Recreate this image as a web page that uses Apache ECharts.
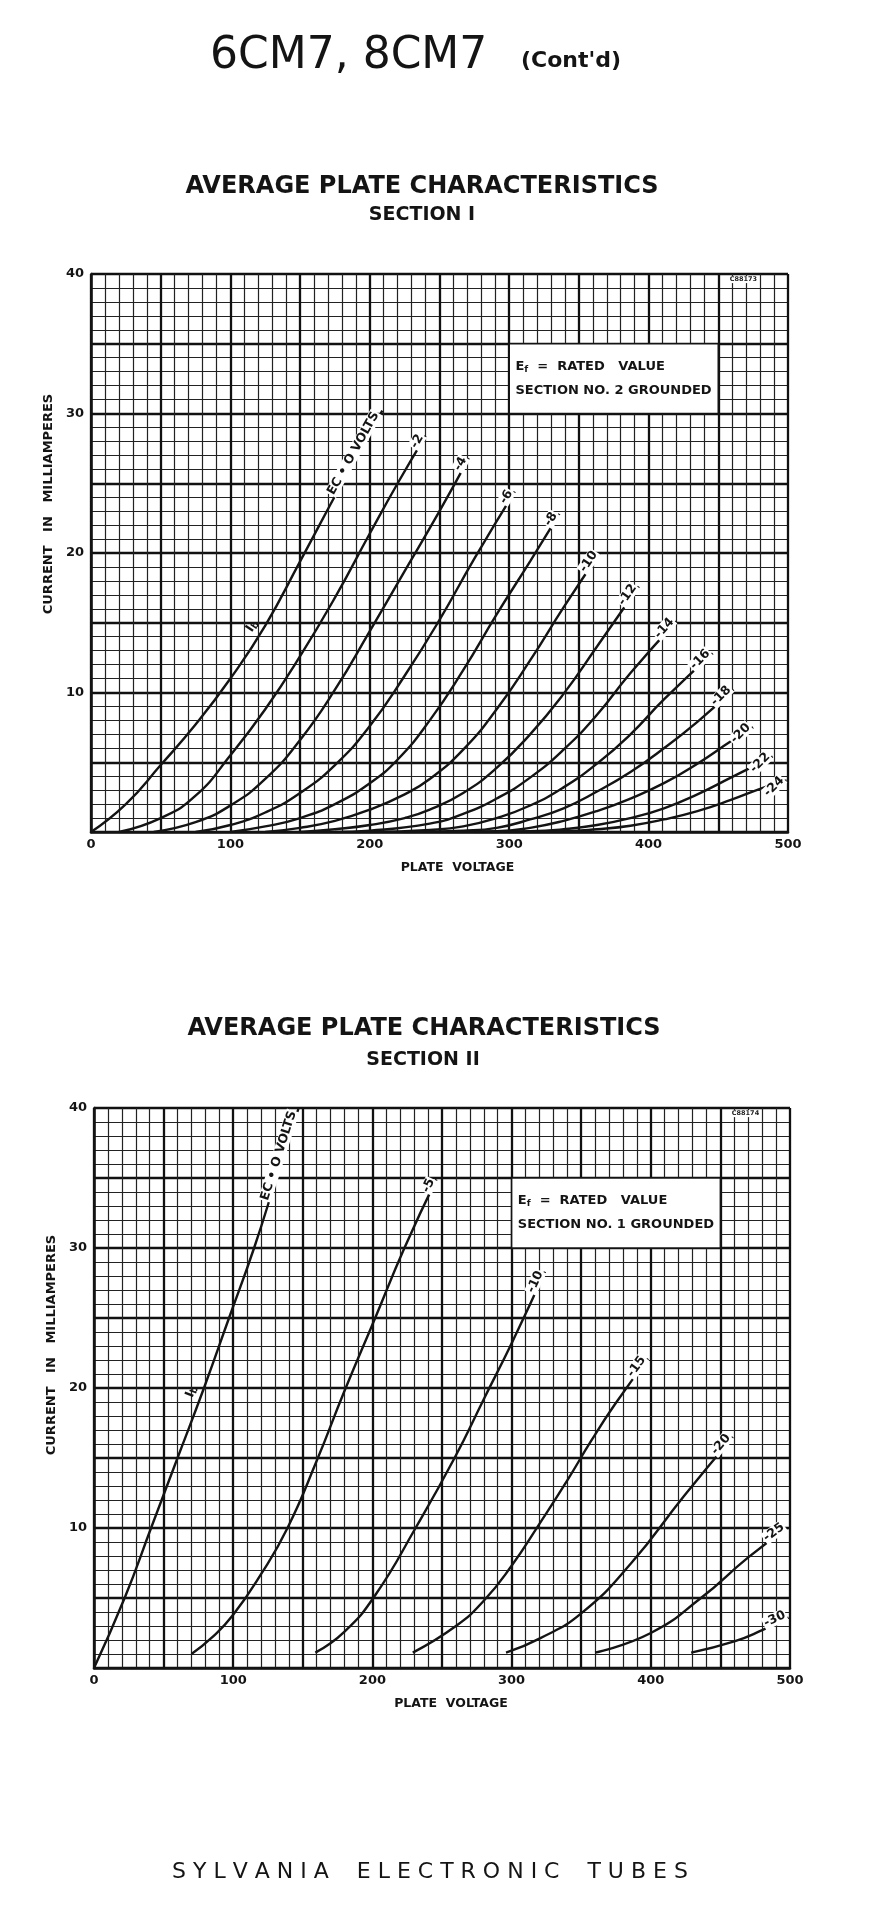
<!DOCTYPE html>
<html>
<head>
<meta charset="utf-8">
<script src="https://cdn.jsdelivr.net/npm/echarts@6.0.0/dist/echarts.min.js"></script>
<style>
html,body{margin:0;padding:0;background:#ffffff;}
#c{width:878px;height:1913px;}
</style>
</head>
<body>
<div id="c"></div>
<script>
// ---------- Axis ranges ----------
const plateVoltMax = 500;
const currentMax = 40;

// ---------- SECTION I curves: [plate volts, mA] ----------
const s1_ec0 = [[0,0],[25,2.0],[50,4.8],[75,7.7],[100,11.0],[125,14.8],[150,19.4],[180,25.0],[209,30.2]];
const s1_m2  = [[20,0],[50,1.0],[75,2.6],[100,5.5],[125,8.8],[150,12.6],[175,16.8],[200,21.4],[220,25.0],[240,28.4]];
const s1_m4  = [[45,0],[75,0.7],[100,1.9],[125,3.8],[150,6.6],[175,10.2],[200,14.4],[225,18.7],[250,23.0],[271,26.8]];
const s1_m6  = [[75,0],[100,0.5],[125,1.4],[150,2.8],[175,4.8],[200,7.6],[225,11.2],[250,15.2],[275,19.6],[304,24.4]];
const s1_m8  = [[100,0],[125,0.4],[150,1.0],[175,2.0],[200,3.5],[220,5.2],[243,8.0],[267,11.6],[291,15.6],[315,19.4],[336,22.8]];
const s1_m10 = [[125,0],[150,0.3],[175,0.8],[200,1.6],[225,2.7],[243,3.8],[267,5.9],[291,8.8],[315,12.3],[339,16.1],[365,20.0]];
const s1_m12 = [[150,0],[175,0.2],[200,0.5],[225,1.0],[243,1.6],[267,2.8],[291,4.6],[315,7.0],[339,9.9],[363,13.3],[393,17.6]];
const s1_m14 = [[175,0],[200,0.1],[243,0.6],[267,1.3],[291,2.4],[315,3.9],[339,5.9],[363,8.4],[387,11.4],[420,15.1]];
const s1_m16 = [[200,0],[243,0.15],[267,0.4],[291,1.0],[315,1.9],[339,3.2],[363,4.9],[387,7.0],[411,9.5],[446,12.8]];
const s1_m18 = [[225,0],[267,0.1],[291,0.3],[315,0.9],[339,1.7],[363,2.9],[387,4.3],[411,6.0],[435,7.9],[461,10.2]];
const s1_m20 = [[250,0],[291,0.05],[315,0.3],[339,0.8],[363,1.5],[387,2.4],[411,3.5],[435,4.9],[459,6.5],[475,7.5]];
const s1_m22 = [[275,0],[315,0.05],[339,0.2],[363,0.5],[387,1.0],[411,1.7],[435,2.7],[459,3.9],[489,5.4]];
const s1_m24 = [[300,0],[339,0.05],[363,0.2],[387,0.45],[411,0.9],[435,1.5],[459,2.3],[483,3.2],[499,3.7]];
const sec1Curves = [s1_ec0,s1_m2,s1_m4,s1_m6,s1_m8,s1_m10,s1_m12,s1_m14,s1_m16,s1_m18,s1_m20,s1_m22,s1_m24];
const sec1Labels = ['EC • O VOLTS','-2','-4','-6','-8','-10','-12','-14','-16','-18','-20','-22','-24'];

// ---------- SECTION II curves ----------
const s2_ec0 = [[0,0],[22,5.0],[41,10.0],[60,15.0],[79,20.0],[97,25.0],[115,30.0],[131,35.0],[147,40.0]];
const s2_m5  = [[70,1.0],[85,2.2],[100,3.8],[120,6.7],[139,10.0],[160,14.8],[180,19.8],[202,25.0],[223,30.0],[246,34.9]];
const s2_m10 = [[159,1.1],[180,2.6],[202,5.2],[231,10.0],[259,15.0],[280,19.2],[301,23.4],[324,28.3]];
const s2_m15 = [[229,1.1],[260,3.0],[280,4.8],[300,7.3],[320,10.3],[340,13.4],[357,16.2],[374,18.8],[398,22.1]];
const s2_m20 = [[296,1.1],[320,2.1],[350,3.9],[386,7.5],[424,12.3],[459,16.5]];
const s2_m25 = [[360,1.1],[400,2.5],[436,5.0],[470,7.9],[498,10.0]];
const s2_m30 = [[429,1.1],[460,1.9],[480,2.7],[499,3.6]];
const sec2Curves = [s2_ec0,s2_m5,s2_m10,s2_m15,s2_m20,s2_m25,s2_m30];
const sec2Labels = ['EC • O VOLTS','-5','-10','-15','-20','-25','-30'];

// ---------- Annotations (data coordinates) ----------
const noteBox = [[300,35],[450,30]];
const sec1NoteLines = ['RATED   VALUE','SECTION NO. 2 GROUNDED'];
const sec2NoteLines = ['RATED   VALUE','SECTION NO. 1 GROUNDED'];
const stampPos = [468,39.6];
const sec1Stamp = 'C88173';
const sec2Stamp = 'C88174';
const sec1IbIndex = 5;
const sec2IbIndex = 4;

const INK = '#141414';
const FONT = '"DejaVu Sans", "Liberation Sans", sans-serif';

const chart = echarts.init(document.getElementById('c'), null, {renderer:'canvas'});

function xAxisCfg(gi, namePadLeft){
  return {
    gridIndex: gi, type:'value', min:0, max:plateVoltMax, interval:50,
    axisLine:{show:true, onZero:false, lineStyle:{color:INK, width:2.6}},
    axisTick:{show:false},
    axisLabel:{formatter: v => (v % 100 === 0 ? String(v) : ''), color:INK, fontFamily:FONT, fontWeight:'bold', fontSize:13, margin:6},
    splitLine:{show:true, lineStyle:{color:'#111111', width:2.3}},
    minorTick:{show:false, splitNumber:5},
    minorSplitLine:{show:true, lineStyle:{color:'#222222', width:1.2}},
    name:'PLATE  VOLTAGE', nameLocation:'middle', nameGap:29,
    nameTextStyle:{color:INK, fontFamily:FONT, fontWeight:'bold', fontSize:12.5, padding:[0,0,0,namePadLeft]}
  };
}
function yAxisCfg(gi, nameGap, namePadLeft){
  return {
    gridIndex: gi, type:'value', min:0, max:currentMax, interval:5,
    axisLine:{show:true, onZero:false, lineStyle:{color:INK, width:2.6}},
    axisTick:{show:false},
    axisLabel:{formatter: v => (v % 10 === 0 && v > 0 ? String(v) : ''), color:INK, fontFamily:FONT, fontWeight:'bold', fontSize:13, margin:7},
    splitLine:{show:true, lineStyle:{color:'#111111', width:2.3}},
    minorTick:{show:false, splitNumber:5},
    minorSplitLine:{show:true, lineStyle:{color:'#222222', width:1.2}},
    name:'CURRENT   IN   MILLIAMPERES', nameLocation:'middle', nameRotate:90, nameGap:nameGap,
    nameTextStyle:{color:INK, fontFamily:FONT, fontWeight:'bold', fontSize:13, padding:[0,0,0,namePadLeft]}
  };
}

function curveSeries(gi, curves, noteLines, stamp){
  return curves.map((c, i) => {
    const s = {
      type:'line', xAxisIndex:gi, yAxisIndex:gi, data:c,
      smooth:0.5, showSymbol:false, symbol:'none',
      lineStyle:{color:INK, width:2.4}, silent:true, z:3, animation:false
    };
    if (i === 0) {
      s.markArea = {
        silent:true,
        itemStyle:{color:'#ffffff', opacity:1, borderColor:INK, borderWidth:1.6},
        label:{
          show:true, position:'insideLeft', distance:7,
          formatter:'{e|E}{f|f}{t|  =  ' + noteLines[0] + '}\n{t|' + noteLines[1] + '}',
          rich:{
            t:{fontFamily:FONT, fontWeight:'bold', fontSize:13, color:INK, lineHeight:24},
            e:{fontFamily:FONT, fontWeight:'bold', fontSize:13, color:INK, lineHeight:24},
            f:{fontFamily:FONT, fontWeight:'bold', fontSize:9, color:INK, lineHeight:24, padding:[6,0,0,0]}
          }
        },
        data:[[{coord:noteBox[0]},{coord:noteBox[1]}]]
      };
      s.markPoint = {
        silent:true, symbol:'rect', symbolSize:[30,7], itemStyle:{color:'#ffffff'},
        label:{show:true, position:'inside', formatter:stamp, fontFamily:FONT, fontWeight:'bold', fontSize:6.5, color:'#222'},
        data:[{coord:stampPos}]
      };
    }
    return s;
  });
}

function labelSeries(gi, curves, texts, ibIndex, minAngleDeg){
  const data = curves.map((c, i) => [c[c.length-1][0], c[c.length-1][1], c[c.length-2][0], c[c.length-2][1], i]);
  const ib = curves[0];
  data.push([ib[ibIndex][0], ib[ibIndex][1], ib[ibIndex-1][0], ib[ibIndex-1][1], -1]);
  return {
    type:'custom', xAxisIndex:gi, yAxisIndex:gi, silent:true, clip:false, z:6, animation:false,
    data:data,
    encode:{x:0, y:1},
    renderItem:function(params, api){
      const p1 = api.coord([api.value(0), api.value(1)]);
      const p0 = api.coord([api.value(2), api.value(3)]);
      const idx = api.value(4);
      let ang = Math.atan2(p0[1]-p1[1], p1[0]-p0[0]);
      const isIb = idx < 0;
      if (!isIb && idx > 0) ang = Math.max(ang, minAngleDeg*Math.PI/180);
      const txt = isIb ? '{a|I}{b|b}' : '{a|' + texts[idx] + '}';
      return {
        type:'text', x:p1[0], y:p1[1], rotation:ang,
        style:{
          text:txt, x:(idx === 0 ? -4 : -1), y:(isIb ? -3 : 2),
          align:'right', textAlign:'right', verticalAlign:'bottom', textVerticalAlign:'bottom',
          backgroundColor: isIb ? 'transparent' : '#ffffff',
          padding:[0,1,0,1],
          rich:{
            a:{fontFamily:FONT, fontWeight:'bold', fontSize:12.5, fill:INK, color:INK},
            b:{fontFamily:FONT, fontWeight:'bold', fontSize:9.5, fill:INK, color:INK, padding:[5,0,0,0]}
          }
        }
      };
    }
  };
}

function titleText(text, x, y, font, align){
  return {type:'text', x:x, y:y, silent:true,
    style:{text:text, font:font, fill:INK, align:align, textAlign:align, verticalAlign:'middle', textVerticalAlign:'middle'}};
}

const option = {
  backgroundColor:'#ffffff',
  animation:false,
  grid:[
    {left:91, top:274, width:697, height:558, containLabel:false, show:true, backgroundColor:'#ffffff', borderWidth:0},
    {left:94, top:1108, width:696, height:560, containLabel:false, show:true, backgroundColor:'#ffffff', borderWidth:0}
  ],
  xAxis:[xAxisCfg(0, 36), xAxisCfg(1, 18)],
  yAxis:[yAxisCfg(0, 32, 98), yAxisCfg(1, 31, 86)],
  graphic:[
    titleText('6CM7, 8CM7', 210, 57, 'normal 44px ' + FONT, 'left'),
    titleText("(Cont'd)", 521, 61, 'bold 22px ' + FONT, 'left'),
    titleText('AVERAGE PLATE CHARACTERISTICS', 422, 187, 'bold 24px ' + FONT, 'center'),
    titleText('SECTION I', 422, 215, 'bold 19px ' + FONT, 'center'),
    titleText('AVERAGE PLATE CHARACTERISTICS', 424, 1029, 'bold 24px ' + FONT, 'center'),
    titleText('SECTION II', 423, 1060, 'bold 19px ' + FONT, 'center'),
    titleText('S Y L V A N I A    E L E C T R O N I C    T U B E S', 430, 1872, 'normal 22px ' + FONT, 'center')
  ],
  series: [].concat(
    curveSeries(0, sec1Curves, sec1NoteLines, sec1Stamp),
    curveSeries(1, sec2Curves, sec2NoteLines, sec2Stamp),
    [labelSeries(0, sec1Curves, sec1Labels, sec1IbIndex, 45), labelSeries(1, sec2Curves, sec2Labels, sec2IbIndex, 25)]
  )
};
chart.setOption(option);
</script>
</body>
</html>
